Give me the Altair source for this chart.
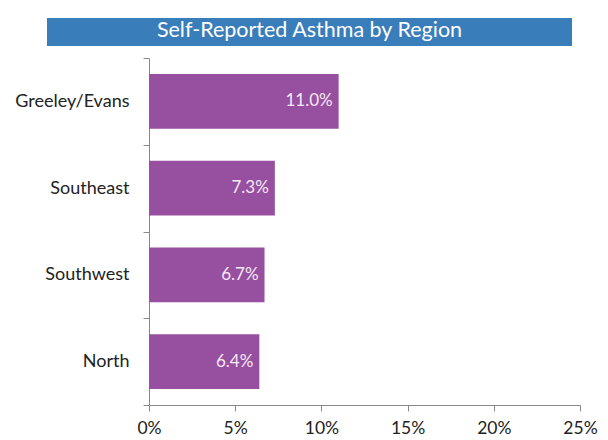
import altair as alt
import pandas as pd

# Regional prevalence of self-reported asthma (percent)
regions = ["Greeley/Evans", "Southeast", "Southwest", "North"]
rates = [11.0, 7.3, 6.7, 6.4]
title_text = "Self-Reported Asthma by Region"
x_ticks = [0, 5, 10, 15, 20, 25]

df = pd.DataFrame({"region": regions, "rate": rates})
df["label"] = [f"{r:.1f}%" for r in rates]

FONT = "Lato"
PLOT_W, PLOT_H = 431, 347

y_enc = alt.Y(
    "region:N",
    sort=regions,
    title=None,
    scale=alt.Scale(paddingInner=0, paddingOuter=0),
    axis=alt.Axis(
        domainColor="#888888",
        tickColor="#888888",
        tickSize=6,
        tickBand="extent",
        labelPadding=14,
        labelFontSize=18,
        labelColor="#222222",
        labelFont=FONT,
        grid=False,
    ),
)

x_enc = alt.X(
    "rate:Q",
    title=None,
    scale=alt.Scale(domain=[0, 25], nice=False),
    axis=alt.Axis(
        values=x_ticks,
        labelExpr="datum.value + '%'",
        labelFlush=False,
        domainColor="#888888",
        tickColor="#888888",
        tickSize=6,
        labelPadding=8,
        labelFontSize=17.5,
        labelColor="#222222",
        labelFont=FONT,
        grid=False,
    ),
)

bars = alt.Chart(df).mark_bar(
    color="#974FA0", height=alt.RelativeBandSize(0.63)
).encode(x=x_enc, y=y_enc)

labels = alt.Chart(df).mark_text(
    align="right", baseline="middle", dx=-6, fontSize=17, font=FONT, color="#F6E9F6"
).encode(x="rate:Q", y=alt.Y("region:N", sort=regions), text="label:N")

# Title banner above the plot
banner = alt.Chart(pd.DataFrame({"t": [title_text]})).mark_rect(
    color="#3A7DBB"
).encode(
    x=alt.value(-102), x2=alt.value(423), y=alt.value(-40), y2=alt.value(-12)
)
banner_text = alt.Chart(pd.DataFrame({"t": [title_text]})).mark_text(
    align="center", baseline="middle", fontSize=21.5, font=FONT, color="white"
).encode(x=alt.value(160.5), y=alt.value(-27), text="t:N")

chart = (
    alt.layer(bars, labels, banner, banner_text)
    .properties(
        width=PLOT_W,
        height=PLOT_H,
        autosize=alt.AutoSizeParams(type="none"),
        padding={"left": 149, "top": 58, "right": 28, "bottom": 35},
        background="white",
    )
    .configure_view(stroke=None)
)

chart.save("out.html", embed_options={"renderer": "svg", "actions": False})
